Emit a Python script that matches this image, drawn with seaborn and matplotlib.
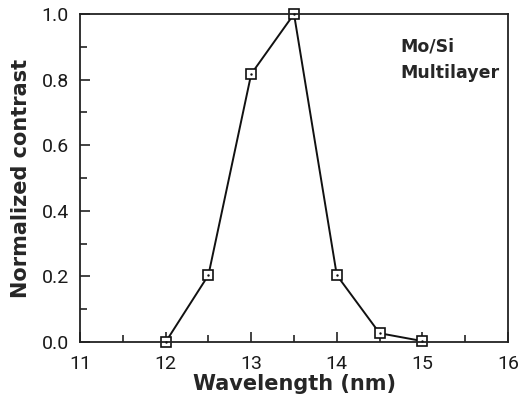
import matplotlib
matplotlib.use('Agg')
import matplotlib.pyplot as plt
import numpy as np
import pandas as pd
import seaborn as sb

wavelength = [12.0, 12.5, 13.0, 13.5, 14.0, 14.5, 15.0]
contrast = [0.0, 0.204, 0.817, 1.0, 0.204, 0.027, 0.003]

x_ticks = [11, 12, 13, 14, 15, 16]
y_ticks = [0.0, 0.2, 0.4, 0.6, 0.8, 1.0]

df = pd.DataFrame({'wavelength': wavelength, 'contrast': contrast})

sb.set_style('ticks')
plt.rcParams['font.family'] = ['DejaVu Sans']

fig = plt.figure(figsize=(5.21, 3.95), dpi=100)
ax = fig.add_axes([0.1536, 0.134, 0.8214, 0.8306])

sb.lineplot(data=df, x='wavelength', y='contrast', ax=ax, color='#111111',
            linewidth=1.4, marker='s', markersize=7, markerfacecolor='white',
            markeredgecolor='#111111', markeredgewidth=1.2, clip_on=False)
sb.scatterplot(data=df, x='wavelength', y='contrast', ax=ax, color='#111111',
               s=3, linewidth=0, zorder=5, clip_on=False)

ax.set_xlim(11, 16)
ax.set_ylim(0, 1.0)
ax.set_xticks(x_ticks)
ax.set_yticks(y_ticks)
ax.set_xticks(np.arange(11.5, 16, 1.0), minor=True)
ax.set_yticks(np.arange(0.1, 1.0, 0.2), minor=True)
ax.set_xticklabels([str(t) for t in x_ticks])
ax.set_yticklabels(['%.1f' % t for t in y_ticks])
ax.tick_params(which='both', direction='in', top=False, right=False,
               labelsize=14, width=1.2, colors='#222222')
ax.tick_params(axis='x', pad=9)
ax.tick_params(axis='y', pad=8)
ax.tick_params(which='major', length=7)
ax.tick_params(which='minor', length=5)
for lab in ax.get_xticklabels() + ax.get_yticklabels():
    lab.set_family(['Roboto', 'DejaVu Sans'])
    lab.set_color('#1a1a1a')
for s in ax.spines.values():
    s.set_linewidth(1.3)
    s.set_color('#222222')

ax.set_xlabel('Wavelength (nm)', fontsize=15, fontweight='bold', labelpad=1)
ax.set_ylabel('Normalized contrast', fontsize=15, fontweight='bold', labelpad=8)

ax.text(0.748, 0.90, 'Mo/Si', transform=ax.transAxes, fontsize=12.5,
        fontweight='bold', va='center', ha='left')
ax.text(0.748, 0.82, 'Multilayer', transform=ax.transAxes, fontsize=12.5,
        fontweight='bold', va='center', ha='left')

plt.savefig('out.png', dpi=100)
